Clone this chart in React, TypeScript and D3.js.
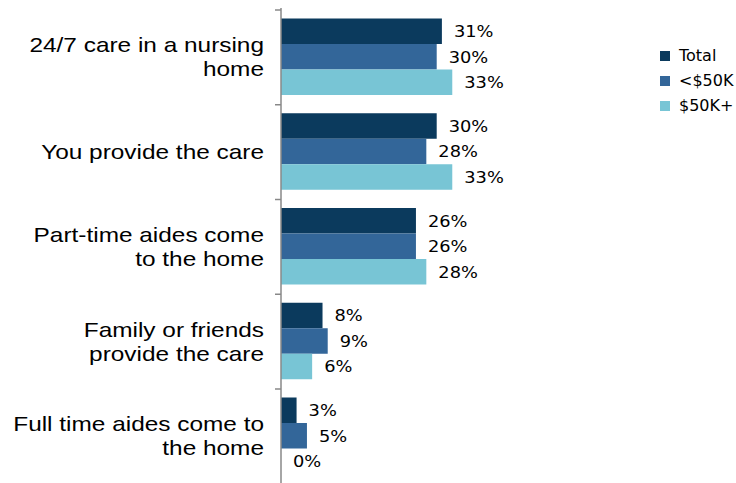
import React from "react";
import * as d3 from "d3";

const categories = [
  ["24/7 care in a nursing", "home"],
  ["You provide the care"],
  ["Part-time aides come", "to the home"],
  ["Family or friends", "provide the care"],
  ["Full time aides come to", "the home"],
];
const seriesNames = ["Total", "<$50K", "$50K+"];
const totalValues = [31, 30, 26, 8, 3];
const under50Values = [30, 28, 26, 9, 5];
const over50Values = [33, 33, 28, 6, 0];
const colors = ["#0B3A5D", "#336699", "#78C5D5"];

const W = 736;
const H = 483;

export default function App() {
  const values = [totalValues, under50Values, over50Values];
  const axisX = 281;
  const x = d3.scaleLinear().domain([0, 35]).range([axisX, axisX + 35 * 5.19]);
  const catIdx = categories.map((_, i) => i);
  const y0 = d3.scaleBand<number>().domain(catIdx).range([10, 483.75]).padding(0);
  const bw = y0.bandwidth();
  const y1 = d3.scaleBand<number>().domain([0, 1, 2]).range([8.5, bw - 9.75]).padding(0);
  const ticks = [...catIdx.map((i) => y0(i) as number), 483.75];

  return (
    <svg width={W} height={H} style={{ position: "absolute", left: 0, top: 0 }}>
      <rect width={W} height={H} fill="#fff" />
      {catIdx.map((ci) => (
        <g key={ci}>
          {values.map((vals, si) => {
            const yy = (y0(ci) as number) + (y1(si) as number);
            const h = y1.bandwidth();
            return (
              <g key={si}>
                <rect x={x(0)} y={yy} width={x(vals[ci]) - x(0)} height={h} fill={colors[si]} />
                <g transform={`translate(${x(vals[ci]) + 12}, ${yy + h / 2 + 1}) scale(1.08, 1)`}>
                  <text
                    x={0}
                    y={0}
                    dominantBaseline="middle"
                    fontFamily="DejaVu Sans, Verdana, sans-serif"
                    fontSize={16.5}
                    fill="#000"
                  >
                    {vals[ci]}%
                  </text>
                </g>
              </g>
            );
          })}
          {categories[ci].map((line, li) => {
            const n = categories[ci].length;
            const cy = (y0(ci) as number) + bw / 2;
            const base = cy - ((n - 1) * 24) / 2 + li * 24 + 7;
            return (
              <g key={li} transform={`translate(264, ${base}) scale(1.22, 1)`}>
                <text
                  x={0}
                  y={0}
                  textAnchor="end"
                  fontFamily="Liberation Sans, Arial, sans-serif"
                  fontSize={20}
                  fill="#000"
                >
                  {line}
                </text>
              </g>
            );
          })}
        </g>
      ))}
      <line x1={axisX} x2={axisX} y1={8} y2={483} stroke="#888" strokeWidth={1.5} />
      {ticks.map((t, i) => (
        <line key={i} x1={axisX - 6} x2={axisX} y1={t} y2={t} stroke="#888" strokeWidth={1.5} />
      ))}
      {seriesNames.map((s, i) => (
        <g key={s} transform={`translate(660, ${51 + i * 25})`}>
          <rect x={0} y={0} width={10} height={10} fill={colors[i]} />
          <text
            x={19}
            y={5.5}
            dominantBaseline="middle"
            fontFamily="DejaVu Sans, Verdana, sans-serif"
            fontSize={16}
            fill="#000"
          >
            {s}
          </text>
        </g>
      ))}
    </svg>
  );
}
